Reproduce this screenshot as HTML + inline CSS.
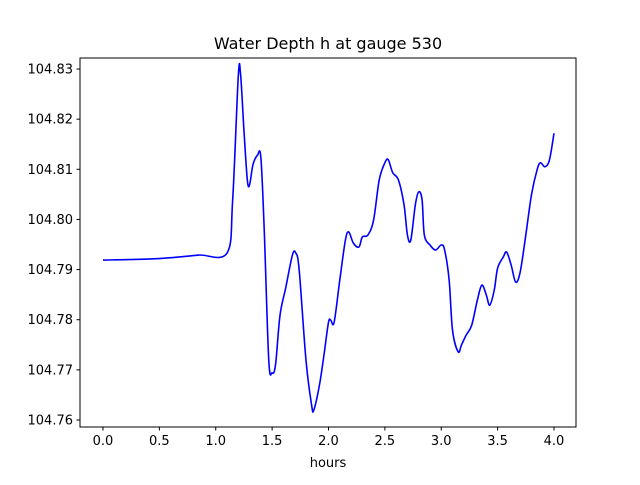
<!DOCTYPE html>
<html><head><meta charset="utf-8"><style>
body{margin:0;background:#fff;font-family:"Liberation Sans","DejaVu Sans",sans-serif}
</style></head><body>
<svg id="chart" width="640" height="480" xmlns="http://www.w3.org/2000/svg" font-family="DejaVu Sans, Liberation Sans, sans-serif">
<rect width="640" height="480" fill="#fff"/>
<text x="328" y="49" text-anchor="middle" font-size="16">Water Depth h at gauge 530</text>
<g id="axes"></g>
<rect x="80" y="58" width="496" height="369" fill="none" stroke="#000" stroke-width="1"/>
<text x="328" y="467" text-anchor="middle" font-size="13">hours</text>
</svg>
<script>
const hours=[0,0.4,0.62,0.85,1.1,1.15,1.2,1.22,1.25,1.28,1.3,1.33,1.37,1.4,1.43,1.47,1.5,1.53,1.57,1.62,1.68,1.71,1.74,1.8,1.85,1.87,1.92,1.96,2.0,2.02,2.05,2.1,2.15,2.18,2.22,2.27,2.3,2.35,2.4,2.45,2.5,2.53,2.57,2.62,2.67,2.7,2.73,2.77,2.8,2.83,2.85,2.9,2.95,3.0,3.03,3.07,3.1,3.15,3.18,3.22,3.27,3.32,3.36,3.4,3.43,3.47,3.5,3.55,3.58,3.62,3.66,3.7,3.75,3.8,3.85,3.88,3.92,3.96,4.0];
const depth=[104.7919,104.7921,104.7924,104.7929,104.7933,104.8039,104.8286,104.8290,104.8178,104.8079,104.8069,104.8109,104.8128,104.8124,104.7979,104.7720,104.7694,104.7710,104.7809,104.7863,104.7929,104.7933,104.7899,104.7720,104.7630,104.7620,104.7670,104.7730,104.7795,104.7799,104.7795,104.7879,104.7959,104.7975,104.7953,104.7945,104.7965,104.7969,104.7999,104.8079,104.8113,104.8119,104.8093,104.8079,104.8029,104.7969,104.7959,104.8029,104.8055,104.8039,104.7969,104.7949,104.7939,104.7949,104.7939,104.7879,104.7779,104.7736,104.7750,104.7769,104.7789,104.7839,104.7869,104.7849,104.7829,104.7859,104.7903,104.7925,104.7935,104.7909,104.7875,104.7895,104.7969,104.8049,104.8099,104.8113,104.8105,104.8119,104.8172];
const xTicks=[0,0.5,1,1.5,2,2.5,3,3.5,4];
const xTickLabels=["0.0","0.5","1.0","1.5","2.0","2.5","3.0","3.5","4.0"];
const yTicks=[104.76,104.77,104.78,104.79,104.80,104.81,104.82,104.83];
const yTickLabels=["104.76","104.77","104.78","104.79","104.80","104.81","104.82","104.83"];
const NS="http://www.w3.org/2000/svg";
const X=v=>103+v*112.75;
const Y=v=>420-(v-104.76)/0.01*50.14;
const svg=document.getElementById('chart'),g=document.getElementById('axes');
function mk(t,a){const e=document.createElementNS(NS,t);for(const k in a)e.setAttribute(k,a[k]);return e;}
xTicks.forEach((t,i)=>{
 const l=mk('line',{x1:X(t),x2:X(t),y1:427,y2:430.5,stroke:'#000'});
 
 
 g.appendChild(l);
 const tx=mk('text',{x:X(t),y:445,'text-anchor':'middle','font-size':'13'});
 
 
 tx.textContent=xTickLabels[i];g.appendChild(tx);
});
yTicks.forEach((t,i)=>{
 const l=mk('line',{x1:76.5,x2:80,y1:Y(t),y2:Y(t),stroke:'#000'});
 
 
 g.appendChild(l);
 const tx=mk('text',{x:73,y:Y(t)+4.5,'text-anchor':'end','font-size':'13'});
 
 
 tx.textContent=yTickLabels[i];g.appendChild(tx);
});
const P=hours.map((h,i)=>[X(h),Y(depth[i])]);
let d='M'+P[0][0]+','+P[0][1];
for(let i=0;i<P.length-1;i++){
 const p0=P[i-1]||P[i],p1=P[i],p2=P[i+1],p3=P[i+2]||P[i+1];
 const c1=[p1[0]+(p2[0]-p0[0])/6,p1[1]+(p2[1]-p0[1])/6],c2=[p2[0]-(p3[0]-p1[0])/6,p2[1]-(p3[1]-p1[1])/6];
 d+=` C${c1[0]},${c1[1]} ${c2[0]},${c2[1]} ${p2[0]},${p2[1]}`;
}
const path=mk('path',{d:d,fill:'none',stroke:'#0000ff','stroke-width':'1.6'});


svg.appendChild(path);
</script>
</body></html>
